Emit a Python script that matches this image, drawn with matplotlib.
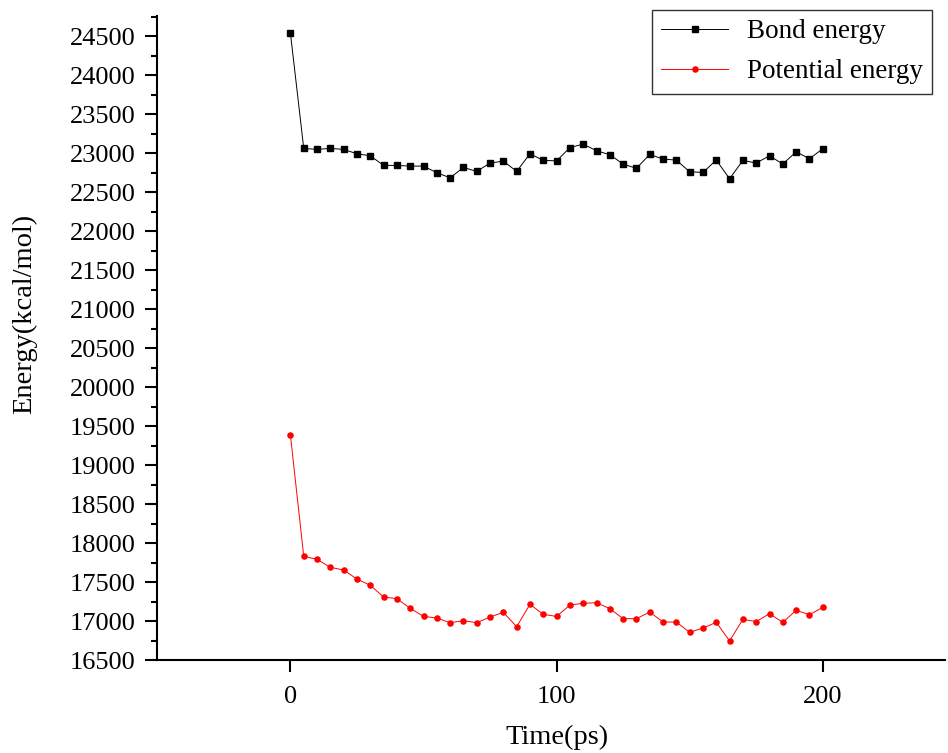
import matplotlib
matplotlib.use('Agg')
import matplotlib.pyplot as plt
from matplotlib.ticker import MultipleLocator

plt.rcParams['font.family'] = ['Liberation Serif', 'DejaVu Serif']

time = list(range(0, 201, 5))

bond = [24535, 23060, 23047, 23060, 23047, 22991, 22965, 22842, 22842, 22833,
        22833, 22748, 22683, 22816, 22765, 22872, 22897, 22765, 22991, 22906,
        22900, 23070, 23115, 23030, 22979, 22859, 22804, 22983, 22923, 22910,
        22760, 22752, 22910, 22671, 22906, 22872, 22965, 22859, 23017, 22927,
        23055]

potential = [19381, 17829, 17791, 17688, 17654, 17538, 17458, 17308, 17286, 17163,
             17060, 17038, 16978, 17004, 16978, 17051, 17111, 16927, 17214, 17086,
             17058, 17205, 17227, 17235, 17158, 17030, 17030, 17115, 16987, 16987,
             16855, 16910, 16983, 16744, 17022, 16992, 17094, 16983, 17137, 17081,
             17175]

fig = plt.figure(figsize=(9.48, 7.53), dpi=100)
ax = fig.add_axes([0.166, 0.1235, 0.831, 0.8555])

ax.plot(time, bond, color='black', lw=0.7, marker='s', ms=3.7, label='Bond energy')
ax.plot(time, potential, color='red', lw=0.7, marker='o', ms=3.7, label='Potential energy')

ax.set_xlim(-50, 246)
ax.set_ylim(16500, 24760)
ax.xaxis.set_major_locator(MultipleLocator(100))
ax.yaxis.set_major_locator(MultipleLocator(500))
ax.yaxis.set_minor_locator(MultipleLocator(250))

for side in ['top', 'right']:
    ax.spines[side].set_visible(False)
for side in ['left', 'bottom']:
    ax.spines[side].set_linewidth(1.5)

ax.tick_params(axis='both', which='major', direction='out', length=8.5, width=1.5, labelsize=19)
ax.tick_params(axis='y', which='major', pad=7)
ax.tick_params(axis='x', which='major', pad=10)
ax.tick_params(axis='y', which='minor', direction='out', length=4, width=1.5)

ax.set_xlabel('Time(ps)', fontsize=20.5)
ax.set_ylabel('Energy(kcal/mol)', fontsize=20.5)
ax.xaxis.label.set_va('center')
ax.yaxis.label.set_va('center')
ax.xaxis.set_label_coords(0.507, -0.1195)
ax.yaxis.set_label_coords(-0.168, 0.537)

leg = ax.legend(loc='upper right', bbox_to_anchor=(932/948, 1 - 10/753),
                bbox_transform=fig.transFigure, fontsize=19.5, frameon=True,
                fancybox=False, edgecolor='black', handlelength=2.44,
                handletextpad=0.7, borderaxespad=0, labelspacing=0.55,
                borderpad=0.35)
leg.get_frame().set_linewidth(1.0)

fig.savefig('out.png', dpi=100)
